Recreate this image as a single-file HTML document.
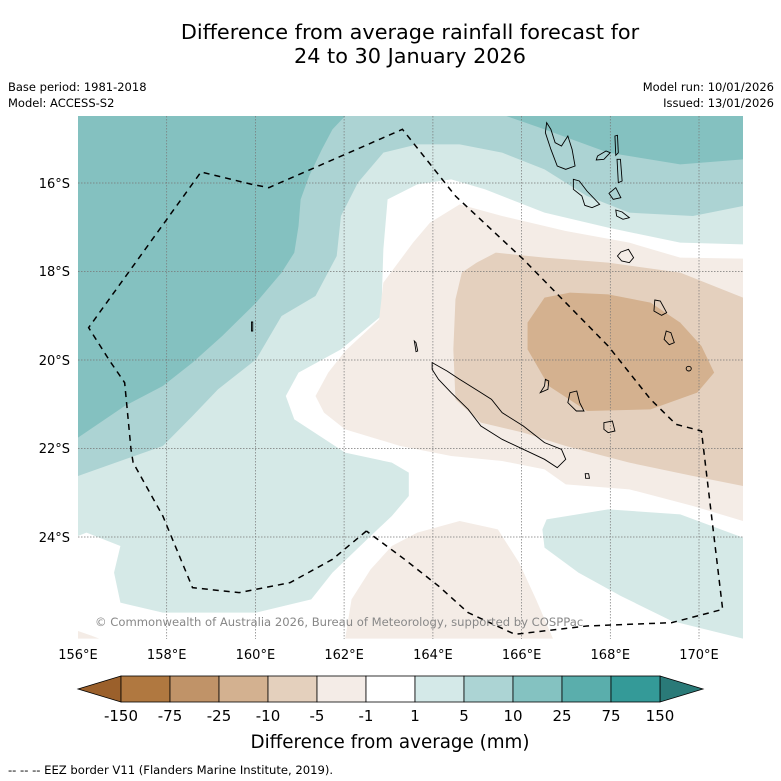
<!DOCTYPE html>
<html><head><meta charset="utf-8"><style>
html,body{margin:0;padding:0;background:#fff}
svg{display:block;font-family:"DejaVu Sans","Liberation Sans",sans-serif}
</style></head><body>
<svg width="781" height="781" viewBox="0 0 781 781">
<text x="410" y="39" text-anchor="middle" font-size="20.8">Difference from average rainfall forecast for</text>
<text x="410" y="63" text-anchor="middle" font-size="20.8">24 to 30 January 2026</text>
<text x="8" y="91" font-size="11.5">Base period: 1981-2018</text>
<text x="8" y="107" font-size="11.5">Model: ACCESS-S2</text>
<text x="774" y="91" font-size="11.5" text-anchor="end">Model run: 10/01/2026</text>
<text x="774" y="107" font-size="11.5" text-anchor="end">Issued: 13/01/2026</text>
<defs><clipPath id="mc"><rect x="78" y="116" width="665" height="523"/></clipPath></defs>
<g clip-path="url(#mc)">
<rect x="78" y="116" width="665" height="523" fill="#fff"/>
<g transform="translate(78,116) scale(0.42411,0.33333)" stroke="none">
<polygon fill="#d5e9e7" points="0,0 1568,0 1568,385 1420,380 1250,335 1100,290 960,220 880,190 800,205 730,250 720,400 715,600 620,700 520,770 490,840 510,910 630,1010 740,1040 780,1070 780,1140 740,1200 690,1260 600,1370 550,1450 420,1490 200,1490 100,1460 85,1370 100,1290 20,1250 0,1260"/>
<polygon fill="#d5e9e7" points="1105,1210 1250,1180 1420,1195 1568,1265 1568,1568 1400,1515 1280,1440 1180,1370 1100,1295 1095,1240"/>
<polygon fill="#acd3d3" points="0,0 1568,0 1568,270 1450,300 1300,290 1200,240 1100,160 1000,110 900,85 800,85 720,110 660,200 620,300 610,420 560,540 480,600 420,730 330,820 270,900 200,990 0,1080"/>
<polygon fill="#84c1c0" points="0,0 630,0 600,40 575,100 545,180 525,250 520,330 510,410 480,470 420,560 340,660 270,740 200,810 110,870 0,965"/>
<polygon fill="#84c1c0" points="1010,0 1100,40 1250,110 1420,145 1568,130 1568,0"/>
<polygon fill="#f4ece6" points="900,265 1000,300 1150,345 1300,380 1420,425 1568,428 1568,1215 1450,1170 1300,1120 1150,1105 1100,1060 1000,1035 880,1020 760,990 630,940 580,890 560,840 590,770 630,705 710,610 720,500 790,380 830,320"/>
<polygon fill="#f4ece6" points="630,1568 645,1450 690,1360 740,1290 800,1250 900,1215 990,1240 1040,1340 1080,1450 1120,1568"/>
<polygon fill="#f4ece6" points="0,1545 30,1558 50,1568 0,1568"/>
<polygon fill="#e4d0be" points="985,410 1100,425 1250,440 1420,470 1568,545 1568,1110 1450,1080 1300,1040 1150,990 1050,950 950,920 890,850 885,700 890,550 905,470 940,440"/>
<polygon fill="#d4b18f" points="1100,545 1160,530 1250,535 1350,560 1420,620 1470,690 1500,770 1460,830 1350,880 1200,885 1110,810 1060,700 1060,620"/>
</g>
<g stroke="#777" stroke-width="0.7" stroke-dasharray="1.5,1.5">
<line x1="166.7" y1="116" x2="166.7" y2="639"/><line x1="255.4" y1="116" x2="255.4" y2="639"/><line x1="344.1" y1="116" x2="344.1" y2="639"/><line x1="432.9" y1="116" x2="432.9" y2="639"/><line x1="521.6" y1="116" x2="521.6" y2="639"/><line x1="610.3" y1="116" x2="610.3" y2="639"/><line x1="699" y1="116" x2="699" y2="639"/>
<line x1="78" y1="183" x2="743" y2="183"/><line x1="78" y1="271.5" x2="743" y2="271.5"/><line x1="78" y1="360" x2="743" y2="360"/><line x1="78" y1="448.5" x2="743" y2="448.5"/><line x1="78" y1="537" x2="743" y2="537"/>
</g>
<g transform="translate(78,116) scale(0.42411,0.33333)" fill="none" stroke="#000">
<polyline stroke-width="1.5" stroke-dasharray="6,5" vector-effect="non-scaling-stroke" points="680,1245 600,1330 500,1400 380,1430 270,1415 200,1200 130,1040 125,1000 110,800 75,735 25,635 290,168 410,205 450,215 765,40 890,240 1050,430 1250,690 1350,850 1410,925 1470,945 1520,1480 1400,1520 1200,1530 1030,1555 920,1490 850,1410 770,1330 680,1245"/>
<g stroke-width="0.9">
<polygon vector-effect="non-scaling-stroke" points="835,740 870,765 900,790 950,830 975,850 1000,890 1050,930 1100,980 1140,1000 1150,1030 1130,1055 1100,1030 1050,1000 1000,970 950,930 920,880 880,830 850,790 835,760"/>
<polygon vector-effect="non-scaling-stroke" points="1105,20 1115,40 1125,80 1140,90 1155,60 1165,100 1172,150 1150,160 1130,150 1115,100 1102,50"/>
<polygon vector-effect="non-scaling-stroke" points="1225,120 1245,105 1255,110 1240,130 1222,132"/>
<polygon vector-effect="non-scaling-stroke" points="1266,60 1272,58 1274,110 1268,118"/>
<polygon vector-effect="non-scaling-stroke" points="1271,130 1279,130 1283,195 1274,200"/>
<polygon vector-effect="non-scaling-stroke" points="1168,190 1182,195 1200,225 1230,265 1212,275 1195,268 1188,240 1168,220"/>
<polygon vector-effect="non-scaling-stroke" points="1252,232 1268,215 1280,245 1262,250"/>
<polygon vector-effect="non-scaling-stroke" points="1268,282 1283,288 1300,305 1285,310 1270,300"/>
<polygon vector-effect="non-scaling-stroke" points="1280,408 1298,400 1310,425 1300,440 1282,435 1272,420"/>
<polygon vector-effect="non-scaling-stroke" points="1360,552 1373,555 1388,590 1376,598 1358,585"/>
<polygon vector-effect="non-scaling-stroke" points="1387,645 1398,650 1406,680 1394,686 1382,670"/>
<ellipse vector-effect="non-scaling-stroke" cx="1440" cy="758" rx="6" ry="7"/>
<polygon vector-effect="non-scaling-stroke" points="1102,790 1110,795 1108,820 1090,830 1100,810"/>
<polygon vector-effect="non-scaling-stroke" points="1160,830 1176,825 1183,860 1193,885 1175,885 1155,860"/>
<polygon vector-effect="non-scaling-stroke" points="1240,920 1260,915 1266,945 1250,950 1240,940"/>
<polygon vector-effect="non-scaling-stroke" points="1196,1073 1204,1073 1206,1087 1197,1087"/>
<polygon vector-effect="non-scaling-stroke" points="409,618 412,618 412,645 409,645"/>
<polygon vector-effect="non-scaling-stroke" points="793,675 797,680 801,705 797,707 795,690"/>
</g>
</g>
<text x="95" y="626" font-size="11.6" fill="#888">© Commonwealth of Australia 2026, Bureau of Meteorology, supported by COSPPac</text>
</g>
<g font-size="13">
<text x="78" y="659" text-anchor="middle">156°E</text><text x="166.7" y="659" text-anchor="middle">158°E</text><text x="255.4" y="659" text-anchor="middle">160°E</text><text x="344.1" y="659" text-anchor="middle">162°E</text><text x="432.9" y="659" text-anchor="middle">164°E</text><text x="521.6" y="659" text-anchor="middle">166°E</text><text x="610.3" y="659" text-anchor="middle">168°E</text><text x="699" y="659" text-anchor="middle">170°E</text>
<text x="70" y="188" text-anchor="end">16°S</text><text x="70" y="276" text-anchor="end">18°S</text><text x="70" y="365" text-anchor="end">20°S</text><text x="70" y="453" text-anchor="end">22°S</text><text x="70" y="542" text-anchor="end">24°S</text>
</g>
<g id="cbar"></g>
<text x="390" y="748" text-anchor="middle" font-size="18.3">Difference from average (mm)</text>
<text x="8" y="774" font-size="11.6">--  --  -- EEZ border V11 (Flanders Marine Institute, 2019).</text>
</svg>
<script>
const cbLabels = ["-150","-75","-25","-10","-5","-1","1","5","10","25","75","150"];
const cbColors = ["#b07840","#c09368","#d3b190","#e4d0bd","#f4ece7","#ffffff","#d4e9e8","#acd4d4","#84c2c1","#5aaeac","#349a98"];
const cbUnder = "#9b602b";
const cbOver = "#2a7a78";
const NS="http://www.w3.org/2000/svg";
const g=document.getElementById('cbar');
const x0=121,w=49,y0=676,h=26;
function mk(t,a){const e=document.createElementNS(NS,t);for(const k in a)e.setAttribute(k,a[k]);g.appendChild(e);return e;}
let tri=mk('polygon',{points:`${x0},${y0} ${x0-43},${y0+h/2} ${x0},${y0+h}`,fill:cbUnder,stroke:'#000','stroke-width':0.8});


const xe=x0+w*cbColors.length;
let tri2=mk('polygon',{points:`${xe},${y0} ${xe+43},${y0+h/2} ${xe},${y0+h}`,fill:cbOver,stroke:'#000','stroke-width':0.8});


cbColors.forEach((c,i)=>{
  const r=mk('rect',{x:x0+i*w,y:y0,width:w,height:h,fill:c,stroke:'#000','stroke-width':0.8});
  
  
});
cbLabels.forEach((l,i)=>{
  const t=mk('text',{x:x0+i*w,y:721,'text-anchor':'middle','font-size':15});
  t.textContent=l;
  
  
});
</script>
</body></html>
